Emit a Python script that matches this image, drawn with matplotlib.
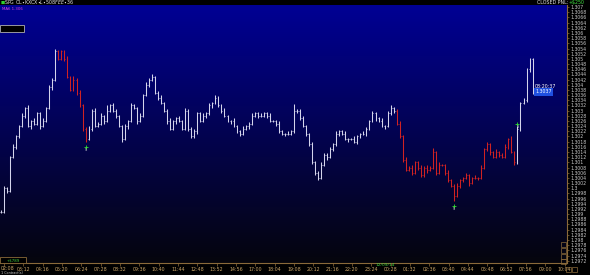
import numpy as np
import matplotlib
matplotlib.use("Agg")
import matplotlib.pyplot as plt
from matplotlib.patches import Rectangle

# ---------------- data ----------------
closes = [
    1.2991, 1.3000, 1.2999, 1.3012, 1.3016, 1.3020, 1.3024, 1.3028, 1.3031, 1.3024,
    1.3026, 1.3025, 1.3029, 1.3024, 1.3026, 1.3031, 1.3039, 1.3042, 1.3053, 1.3050,
    1.3053, 1.3050, 1.3043, 1.3038, 1.3042, 1.3037, 1.3032, 1.3023, 1.3019, 1.3023,
    1.3030, 1.3024, 1.3025, 1.3028, 1.3026, 1.3030, 1.3032, 1.3030, 1.3028, 1.3024,
    1.3019, 1.3024, 1.3026, 1.3032, 1.3031, 1.3026, 1.3028, 1.3036, 1.3040, 1.3042,
    1.3043, 1.3037, 1.3035, 1.3033, 1.3030, 1.3026, 1.3023, 1.3026, 1.3027, 1.3026,
    1.3023, 1.3030, 1.3023, 1.3020, 1.3022, 1.3029, 1.3026, 1.3028, 1.3029, 1.3032,
    1.3033, 1.3035, 1.3032, 1.3030, 1.3028, 1.3026, 1.3026, 1.3024, 1.3022, 1.3021,
    1.3023, 1.3024, 1.3025, 1.3028, 1.3029, 1.3028, 1.3028, 1.3029, 1.3028, 1.3026,
    1.3026, 1.3025, 1.3022, 1.3021, 1.3021, 1.3021, 1.3022, 1.3030, 1.3030, 1.3027,
    1.3024, 1.3021, 1.3017, 1.3010, 1.3006, 1.3004, 1.3009, 1.3013, 1.3012, 1.3015,
    1.3017, 1.3021, 1.3022, 1.3021, 1.3019, 1.3019, 1.3019, 1.3018, 1.3020, 1.3021,
    1.3021, 1.3023, 1.3026, 1.3029, 1.3027, 1.3026, 1.3024, 1.3024, 1.3029, 1.3031,
    1.3030, 1.3025, 1.3020, 1.3011, 1.3007, 1.3008, 1.3006, 1.3010, 1.3008, 1.3005,
    1.3008, 1.3007, 1.3008, 1.3014, 1.3006, 1.3009, 1.3009, 1.3006, 1.3003, 1.3001,
    1.2997, 1.3001, 1.3003, 1.3004, 1.3005, 1.3002, 1.3004, 1.3004, 1.3004, 1.3008,
    1.3015, 1.3017, 1.3014, 1.3012, 1.3014, 1.3013, 1.3012, 1.3016, 1.3019, 1.3014,
    1.3010, 1.3023, 1.3033, 1.3034, 1.3046, 1.3050, 1.3037,
]
# wick lengths beyond the open/close body, in half-pips (estimated)
upper_wick = [
    1, 2, 1, 1, 2, 1, 1, 2, 1, 2,  1, 2, 1, 1, 2, 1, 2, 1, 2, 1,
    1, 1, 2, 1, 3, 1, 2, 1, 1, 2,  1, 2, 1, 2, 1, 4, 1, 2, 1, 1,
    1, 2, 1, 2, 1, 1, 2, 1, 2, 1,  2, 1, 1, 2, 1, 1, 2, 1, 1, 2,
    1, 2, 1, 1, 2, 1, 1, 2, 1, 2,  1, 2, 1, 1, 2, 1, 1, 2, 1, 1,
    2, 1, 1, 2, 1, 1, 2, 1, 1, 2,  1, 1, 2, 1, 1, 2, 1, 5, 1, 1,
    2, 1, 1, 2, 1, 1, 2, 1, 1, 2,  1, 2, 1, 1, 2, 1, 1, 2, 1, 1,
    2, 1, 1, 2, 1, 1, 2, 1, 2, 2,  1, 1, 2, 1, 2, 1, 2, 1, 1, 2,
    1, 2, 1, 3, 1, 2, 1, 1, 2, 1,  1, 2, 1, 1, 2, 1, 1, 2, 1, 2,
    1, 2, 1, 1, 2, 1, 1, 2, 1, 2,  1, 2, 1, 2, 1, 1, 1,
]
lower_wick = [
    1, 1, 2, 1, 1, 2, 1, 1, 2, 1,  2, 1, 1, 2, 1, 1, 1, 2, 1, 1,
    1, 2, 1, 1, 1, 2, 1, 2, 2, 1,  2, 1, 1, 1, 2, 1, 1, 1, 2, 1,
    2, 1, 2, 1, 1, 2, 1, 1, 1, 2,  1, 1, 2, 1, 1, 2, 1, 1, 2, 1,
    1, 1, 2, 1, 1, 2, 1, 1, 2, 1,  2, 1, 1, 2, 1, 1, 2, 1, 1, 2,
    1, 1, 2, 1, 1, 2, 1, 1, 2, 1,  1, 2, 1, 1, 2, 1, 1, 1, 2, 1,
    1, 2, 1, 1, 2, 2, 1, 1, 2, 1,  1, 1, 2, 1, 1, 2, 1, 1, 2, 1,
    1, 2, 1, 1, 2, 1, 1, 2, 1, 1,  2, 1, 1, 2, 1, 1, 2, 1, 2, 1,
    1, 2, 1, 1, 2, 1, 1, 2, 1, 1,  4, 1, 2, 1, 1, 2, 1, 1, 2, 1,
    1, 1, 2, 1, 1, 2, 1, 1, 2, 1,  2, 1, 2, 1, 1, 2, 1,
]
red_spans = [(19, 28), (131, 170)]          # bar index ranges painted red
signal_bars = [28, 150, 171]
signal_prices = [1.3016, 1.2993, 1.3025]

time_labels = ["02:08", "03:12", "04:16", "05:20", "06:24", "07:28", "08:32",
               "09:36", "10:40", "11:44", "12:48", "13:52", "14:56", "17:00",
               "18:04", "19:08", "20:12", "21:16", "22:20", "23:24", "00:28",
               "01:32", "02:36", "03:40", "04:44", "05:48", "06:52", "07:56",
               "09:00", "10:04"]
last_price = 1.3037
last_time = "08:20:37"
price_low, price_high = 1.2972, 1.3070

# ---------------- figure ----------------
W, H = 590, 275
fig = plt.figure(figsize=(W / 100, H / 100), dpi=100, facecolor="black")
ax = fig.add_axes([0, 12 / H, 567 / W, (263 - 5) / H])
ax.set_facecolor("black")

ymin, ymax = 1.297111, 1.307082
xmin, xmax = -0.33, 187.4

# background gradient
top = np.array([0.0, 0.0, 0.58])
bot = np.array([0.02, 0.02, 0.05])
t = np.linspace(0, 1, 256)[:, None]
grad = (top * (1 - t) + bot * t)[:, None, :]
ax.imshow(grad, extent=[xmin, xmax, ymin, ymax], aspect="auto", zorder=0,
          interpolation="bilinear")

# bars
n = len(closes)
xs = np.arange(n)
cols = []
for i in range(n):
    c = "#d4d4ec"
    for a, b in red_spans:
        if a <= i <= b:
            c = "#d02222"
    cols.append(c)
half_pip = 0.00005
for i in range(n):
    o = closes[i - 1] if i > 0 else closes[i]
    c = closes[i]
    lo = min(o, c) - lower_wick[i] * half_pip
    hi = max(o, c) + upper_wick[i] * half_pip
    ax.vlines(xs[i], lo, hi, colors=cols[i], linewidth=0.75, zorder=3)
    ax.hlines(o, xs[i] - 0.3, xs[i], colors=cols[i], linewidth=0.6, zorder=3)
    ax.hlines(c, xs[i], xs[i] + 0.3, colors=cols[i], linewidth=0.6, zorder=3)

for b, p in zip(signal_bars, signal_prices):
    ax.plot(b, p, marker="+", color="#30e030", markersize=3, mew=0.6, zorder=4)
    ax.text(b, p - 0.00012, "S", color="#dddddd", fontsize=2.5, ha="center",
            va="center", zorder=4)

ax.set_xlim(xmin, xmax)
ax.set_ylim(ymin, ymax)

# right price axis
tan = "#8a6a3a"
ax.yaxis.tick_right()
pticks = np.round(np.arange(price_low, price_high + 1e-9, 0.0002), 4)
ax.set_yticks(pticks)
ax.set_yticklabels([f"{v:.4f}".rstrip("0").rstrip(".") for v in pticks])
ax.tick_params(axis="y", colors=tan, labelcolor="#c8c8c8", labelsize=3.3,
               length=1.5, width=0.5, pad=1)

# bottom time axis (first label drawn separately so it is not clipped)
tpos = [1 + 6.4 * k for k in range(len(time_labels))]
ax.set_xticks(tpos)
ax.set_xticklabels([""] + time_labels[1:])
ax.tick_params(axis="x", colors=tan, labelcolor="#c8a468", labelsize=3.4,
               length=2, width=0.5, pad=1)
fig.text(0.5 / W, 1 - 268.5 / H, time_labels[0], color="#c8a468", fontsize=3.4,
         ha="left", va="center")

for s in ["left", "top"]:
    ax.spines[s].set_visible(False)
for s in ["right", "bottom"]:
    ax.spines[s].set_color(tan)
    ax.spines[s].set_linewidth(0.8)

# last price box
ax.text(176.6, 1.30393, last_time, color="white", fontsize=3.4, ha="left",
        va="center", zorder=5)
ax.text(176.9, 1.30372, f"{last_price:.4f}", color="white", fontsize=3.4,
        ha="left", va="center", zorder=5,
        bbox=dict(boxstyle="square,pad=0.25", fc="#1f4fe0", ec="none"))

# header strip
fig.text(1 / W, 1 - 2.5 / H, "\u25a0", color="#30d030", fontsize=3.2, va="center")
fig.text(4 / W, 1 - 2.5 / H, "SPG OL\u2022KXCX\u2022$L\u2022508 FEE\u2022$36",
         color="#e0e0e0", fontsize=3.4, va="center")
fig.text(568 / W, 1 - 2.5 / H, "CLOSED PNL:", color="#e0e0e0", fontsize=3.4,
         ha="right", va="center")
fig.text(569 / W, 1 - 2.5 / H, "+$250", color="#40e040", fontsize=3.4,
         ha="left", va="center")
fig.text(2 / W, 1 - 8.5 / H, "MA6 1.306", color="#e040e0", fontsize=2.8,
         va="center")

# boxes
fig.patches.append(Rectangle((0, 1 - 32 / H), 24 / W, 7 / H,
                             transform=fig.transFigure, fc="black",
                             ec="#b0b0b0", lw=0.6, zorder=5))
fig.patches.append(Rectangle((0, 1 - 263 / H), 26 / W, 6 / H,
                             transform=fig.transFigure, fc="black",
                             ec=tan, lw=0.6, zorder=5))
fig.text(13 / W, 1 - 260 / H, "+$789", color="#40d040", fontsize=2.8,
         ha="center", va="center", zorder=6)
fig.text(376 / W, 1 - 264.5 / H, "12/09/14", color="#40d040", fontsize=3.2,
         va="center", zorder=6)
fig.text(1 / W, 1 - 273.5 / H, "1 Contract(s)", color="#cccccc", fontsize=2.4,
         va="center")

# small tool icons bottom right
for yy in [242, 248, 254, 259]:
    fig.patches.append(Rectangle((561 / W, 1 - (yy + 5) / H), 5 / W, 5 / H,
                                 transform=fig.transFigure, fc="none",
                                 ec=tan, lw=0.5))
for xx in [566, 572]:
    fig.patches.append(Rectangle((xx / W, 1 - 272 / H), 5 / W, 5 / H,
                                 transform=fig.transFigure, fc="none",
                                 ec=tan, lw=0.5))

fig.savefig("out.png", dpi=100, facecolor="black")
